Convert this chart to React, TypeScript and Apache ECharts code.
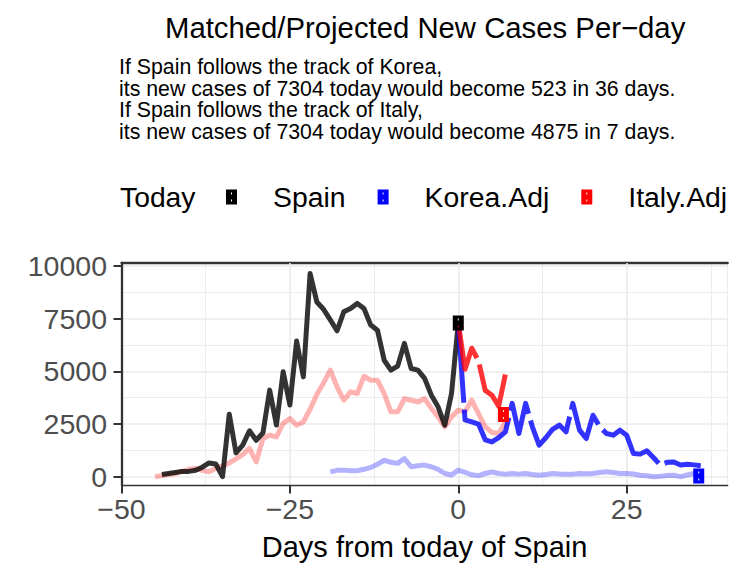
import React, { useEffect, useRef } from 'react';
import * as echarts from 'echarts';

const FONT = '"Liberation Sans", Arial, Helvetica, sans-serif';

const titleText = 'Matched/Projected New Cases Per\u2212day';
const subtitleLines = [
  'If Spain follows the track of Korea,',
  'its new cases of 7304 today would become 523 in 36 days.',
  'If Spain follows the track of Italy,',
  'its new cases of 7304 today would become 4875 in 7 days.',
];
const legendTitle = 'Today';
const legendNames = ['Spain', 'Korea.Adj', 'Italy.Adj'];
const xAxisTitle = 'Days from today of Spain';

const xTicks = [-50, -25, 0, 25];
const yTicks = [0, 2500, 5000, 7500, 10000];
const yMinorGrid = [1250, 3750, 6250, 8750];

// Spain observed new cases, days -44 .. 0
const spainStartDay = -44;
const spainValues = [
  100, 150, 200, 250, 250, 300, 450, 650, 600, 0,
  2970, 1130, 1500, 2180, 1730, 2080, 4110, 2450, 4980, 3400,
  6440, 4740, 9650, 8300, 7950, 7450, 6930, 7830, 7990, 8230,
  7990, 7200, 6960, 5530, 5060, 5250, 6330, 5140, 5060, 4670,
  3870, 3320, 2450, 3950, 7304,
];

// Italy (adjusted) matched history, days -45 .. 7
const italyHistStartDay = -45;
const italyHistValues = [
  0, 50, 100, 150, 250, 350, 390, 300, 230, 400,
  500, 650, 850, 1050, 1340, 700, 1810, 1970, 1890, 2530,
  2760, 2450, 2600, 3200, 3900, 4450, 5060, 4270, 3630, 4030,
  3950, 4770, 4580, 4580, 3950, 3080, 3080, 3710, 3630, 3550,
  3710, 3240, 2840, 2370, 2840, 3160, 3080, 3630, 3000, 2370,
  2100, 2050, 2600,
];

// Korea (adjusted) matched history, days -19 .. 35
const koreaHistStartDay = -19;
const koreaHistValues = [
  230, 300, 310, 280, 280, 350, 440, 590, 780, 680,
  630, 860, 470, 520, 550, 470, 350, 150, 80, 310,
  200, 90, 50, 150, 220, 150, 120, 150, 120, 150,
  100, 70, 100, 150, 130, 120, 120, 150, 140, 150,
  200, 230, 200, 150, 150, 130, 70, 40, 0, 20,
  60, 70, 0, 80, 150,
];

// Korea.Adj projection, days 0 .. 36
const koreaProjStartDay = 0;
const koreaProjValues = [
  7304, 2700, 2600, 2500, 1750, 1650, 1850, 2130, 3480, 2050,
  3480, 2370, 1500, 1850, 2250, 2450, 2130, 3480, 2210, 1810,
  2920, 2370, 2050, 1970, 2210, 1970, 1100, 1070, 1230, 900,
  550, 680, 700, 550, 590, 560, 523,
];

// Italy.Adj projection, days 0 .. 7
const italyProjStartDay = 0;
const italyProjValues = [7304, 5100, 6100, 5500, 4100, 3870, 3350, 4875];

// "Today" markers [day, value]
const todaySpain = [0, 7304];
const todayKorea = [35.7, 30];
const todayItaly = [6.7, 2950];

const MARKER = 'path://M0,0H11V15H0Z M5,3V5H6V3Z M5,10V12H6V10Z';

const toPairs = (start: number, vals: number[]) => vals.map((v, i) => [start + i, v]);

const lineSeries = (name: string, data: number[][], color: string, dashed: boolean) => ({
  type: 'line',
  name,
  data,
  xAxisIndex: 0,
  yAxisIndex: 0,
  showSymbol: false,
  symbol: 'none',
  silent: true,
  lineStyle: {
    color,
    width: 5,
    cap: 'butt',
    join: 'round',
    type: dashed ? [80, 7] : 'solid',
  },
});

const markerSeries = (name: string, point: number[], color: string) => ({
  type: 'scatter',
  name,
  data: [point],
  xAxisIndex: 0,
  yAxisIndex: 0,
  symbol: MARKER,
  symbolSize: [11, 15],
  silent: true,
  itemStyle: { color, opacity: 1 },
  z: 5,
});

const fmtX = (v: number) => (v < 0 ? '\u2212' + Math.abs(v) : String(v));
const fmtY = (v: number) => String(v);

const GRID_MAJOR = { color: '#ebebeb', width: 1.6 };
const GRID_MINOR = { color: '#ebebeb', width: 0.9 };

const option = {
  animation: false,
  backgroundColor: '#ffffff',
  textStyle: { fontFamily: FONT },
  grid: { left: 121.5, right: 25.3, top: 263, bottom: 85.5, containLabel: false },
  graphic: [
    {
      type: 'text',
      x: 165,
      y: 27,
      style: { text: titleText, fontSize: 29.3, fontFamily: FONT, fill: '#000', align: 'left', verticalAlign: 'middle' },
    },
    {
      type: 'text',
      x: 119,
      y: 99.25,
      style: {
        text: subtitleLines.join('\n'),
        fontSize: 21.3,
        lineHeight: 21.5,
        fontFamily: FONT,
        fill: '#000',
        align: 'left',
        verticalAlign: 'middle',
      },
    },
    {
      type: 'text',
      x: 120,
      y: 197,
      style: { text: legendTitle, fontSize: 28.3, fontFamily: FONT, fill: '#000', align: 'left', verticalAlign: 'middle' },
    },
  ],
  legend: {
    data: legendNames,
    left: 226,
    top: 182,
    padding: 0,
    itemWidth: 11,
    itemHeight: 15,
    itemGap: 32,
    icon: MARKER,
    selectedMode: false,
    textStyle: { fontSize: 28.4, color: '#000', fontFamily: FONT, padding: [0, 0, 0, 31], lineHeight: 30 },
  },
  xAxis: [
    {
      type: 'value',
      min: -50,
      max: 40,
      interval: 25,
      position: 'bottom',
      axisLine: { show: true, onZero: false, lineStyle: { color: '#333333', width: 1.3 } },
      axisTick: { show: true, length: 8, lineStyle: { color: '#333333', width: 2 }, customValues: xTicks },
      axisLabel: { customValues: xTicks, formatter: fmtX, fontSize: 28.5, color: '#4d4d4d', margin: 9, fontFamily: FONT },
      splitLine: { show: true, lineStyle: GRID_MAJOR },
      name: xAxisTitle,
      nameLocation: 'middle',
      nameGap: 47,
      nameTextStyle: { fontSize: 29, color: '#000', fontFamily: FONT },
      z: 3,
    },
    {
      type: 'value',
      min: -50,
      max: 40,
      interval: 12.5,
      position: 'top',
      axisLine: { show: true, onZero: false, lineStyle: { color: '#333333', width: 2.3 } },
      axisTick: { show: false },
      axisLabel: { show: false },
      splitLine: { show: true, lineStyle: GRID_MINOR },
    },
  ],
  yAxis: [
    {
      type: 'value',
      min: -420,
      max: 10150,
      position: 'left',
      axisLine: { show: true, onZero: false, lineStyle: { color: '#333333', width: 2.3 } },
      axisTick: { show: true, length: 8, lineStyle: { color: '#333333', width: 2 }, customValues: yTicks },
      axisLabel: { customValues: yTicks, formatter: fmtY, fontSize: 28.5, color: '#4d4d4d', margin: 14.5, fontFamily: FONT },
      splitLine: { show: true, lineStyle: GRID_MAJOR },
      z: 3,
    },
    {
      type: 'value',
      min: -420,
      max: 10150,
      position: 'right',
      axisLine: { show: false, onZero: false },
      axisTick: { show: false, customValues: yMinorGrid },
      axisLabel: { show: false, customValues: yMinorGrid },
      splitLine: { show: true, lineStyle: GRID_MINOR },
    },
  ],
  series: [
    lineSeries('Italy.Adj history', toPairs(italyHistStartDay, italyHistValues), 'rgba(255,0,0,0.3)', false),
    lineSeries('Korea.Adj history', toPairs(koreaHistStartDay, koreaHistValues), 'rgba(0,0,255,0.3)', false),
    lineSeries('Spain history', toPairs(spainStartDay, spainValues), 'rgba(0,0,0,0.8)', false),
    lineSeries('Korea.Adj projection', toPairs(koreaProjStartDay, koreaProjValues), 'rgba(0,0,255,0.8)', true),
    lineSeries('Italy.Adj projection', toPairs(italyProjStartDay, italyProjValues), 'rgba(255,0,0,0.8)', true),
    markerSeries('Spain', todaySpain, '#000000'),
    markerSeries('Korea.Adj', todayKorea, '#0000ff'),
    markerSeries('Italy.Adj', todayItaly, '#ff0000'),
  ],
};

export default function App() {
  const ref = useRef<HTMLDivElement>(null);
  useEffect(() => {
    if (!ref.current) return;
    const chart = echarts.init(ref.current, null, { renderer: 'svg' });
    chart.setOption(option as any);
    return () => chart.dispose();
  }, []);
  return (
    <div
      ref={ref}
      style={{ position: 'fixed', left: 0, top: 0, width: 753, height: 571, background: '#fff' }}
    />
  );
}
